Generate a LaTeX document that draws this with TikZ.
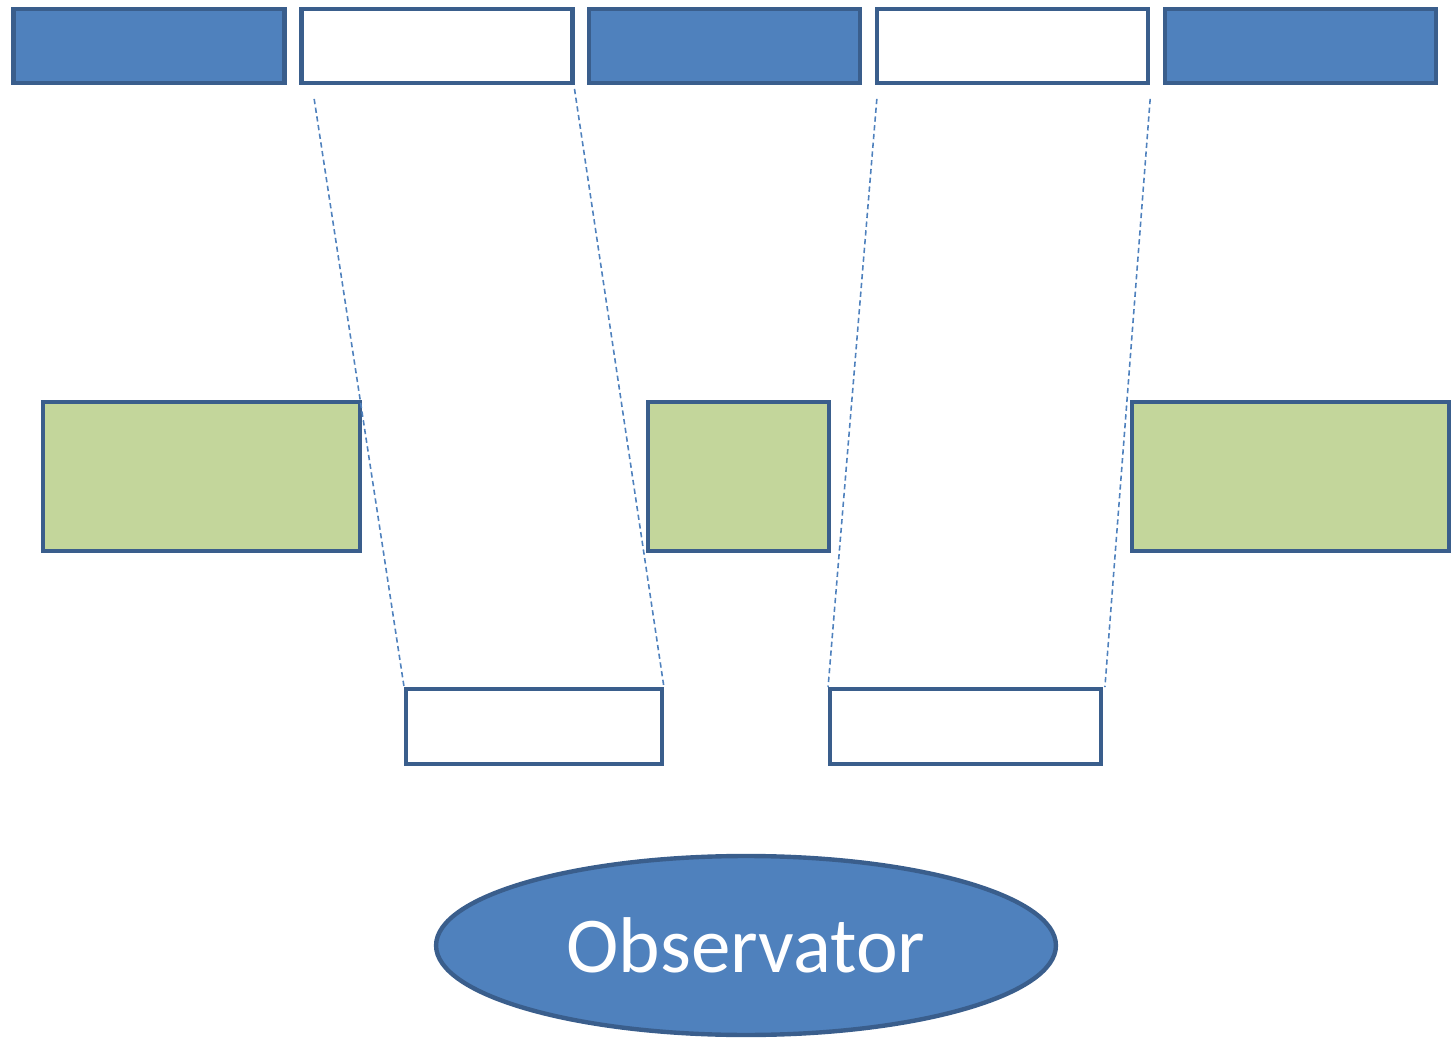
\documentclass[tikz,border=0pt]{standalone}
\usepackage{fontspec}
\setmainfont{Carlito}
\usetikzlibrary{positioning}
\usetikzlibrary{shapes}
\definecolor{boxblue}{HTML}{4F81BD}
\definecolor{edgeblue}{HTML}{3A5E8C}
\definecolor{boxgreen}{HTML}{C3D69B}
\tikzstyle{T} = [rectangle,fill=boxblue,draw=edgeblue,line width=2.5pt,minimum width=5.42cm,minimum height=1.47cm,inner sep=0pt]
\tikzstyle{W} = [T,fill=white]
\tikzstyle{G} = [rectangle,fill=boxgreen,draw=edgeblue,line width=2.5pt,minimum height=2.97cm,inner sep=0pt]
\tikzstyle{B} = [W,minimum height=1.49cm]
\tikzstyle{ray} = [dash pattern=on 3pt off 2pt,draw=boxblue,line width=0.9pt]

\begin{document}
\begin{tikzpicture}[x=0.02cm,y=-0.02cm]
  \useasboundingbox (0,0) rectangle (1455,1044);
  \node [T] at (149,46) (t1) {};
  \node [W,right=.25cm of t1] (w1) {};
  \node [T,right=.25cm of w1] (t2) {};
  \node [W,right=.25cm of t2] (w2) {};
  \node [T,right=.25cm of w2] (t3) {};

  \node [G,minimum width=6.33cm] at (201.5,476.5) (g1) {};
  \node [G,minimum width=3.61cm] at (738.5,476.5) (g2) {};
  \node [G,minimum width=6.33cm] at (1290.5,476.5) (g3) {};

  \node [B,minimum width=5.11cm] at (534,726.5) (b1) {};
  \node [B,minimum width=5.41cm] at (965.5,726.5) (b2) {};

  \node [ellipse,fill=boxblue,draw=edgeblue,line width=2.5pt,minimum width=12.4cm,minimum height=3.58cm,
         text=white,font=\fontsize{45}{54}\selectfont] at (746,945.5) (obs) {Observator};

	\draw [ray] ([xshift=.3cm,yshift=-.28cm]w1.south west) -- (b1.north west);
	\draw [ray] ([yshift=-.08cm]w1.south east) -- (b1.north east);
	\draw [ray] ([xshift=.04cm,yshift=-.28cm]w2.south west) -- (b2.north west);
	\draw [ray] ([yshift=-.28cm]w2.south east) -- ([xshift=.04cm]b2.north east);
\end{tikzpicture}
\end{document}
